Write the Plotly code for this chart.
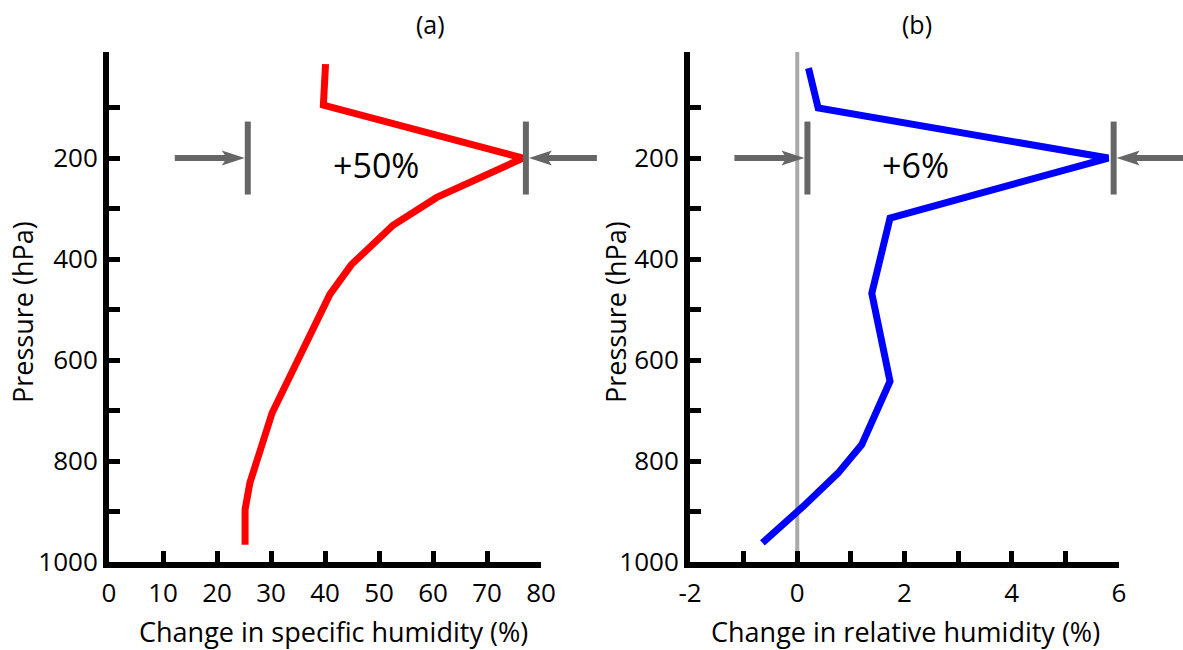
import plotly.graph_objects as go

# ---- data ----
pressure_sh = [14, 95, 200, 278, 333, 411, 470, 705, 843, 896, 966]
sh_change = [40.1, 39.7, 76.7, 60.7, 52.6, 44.9, 40.9, 30.2, 26.1, 25.2, 25.2]

pressure_rh = [22, 101, 200, 319, 468, 642, 768, 824, 890, 962]
rh_change = [0.21, 0.39, 5.80, 1.73, 1.39, 1.73, 1.20, 0.76, 0.11, -0.65]

# bracket markers (x positions of the grey bars) at the 200 hPa level
marker_level = 200
sh_markers = [25.7, 77.2]
rh_markers = [0.19, 5.90]
sh_label = "+50%"
rh_label = "+6%"

y_major = [200, 400, 600, 800, 1000]
y_minor = [100, 300, 500, 700, 900]
x1_ticks = [0, 10, 20, 30, 40, 50, 60, 70, 80]
x2_ticks = [-2, 0, 2, 4, 6]
x2_ticktext = ["-2", "0", "2", "4", "6"]

X1_RANGE = [0, 80]
X2_RANGE = [-2, 6]
Y_RANGE = [1000, -10]

FONT = "Open Sans"
W, H = 1183, 650
GREY = "#666666"

fig = go.Figure()
fig.add_trace(go.Scatter(x=sh_change, y=pressure_sh, mode="lines",
                         line=dict(color="#ff0000", width=7),
                         xaxis="x", yaxis="y", showlegend=False))
fig.add_trace(go.Scatter(x=rh_change, y=pressure_rh, mode="lines",
                         line=dict(color="#0000ff", width=7),
                         xaxis="x2", yaxis="y2", showlegend=False))

axis_common = dict(showgrid=False, zeroline=False, showline=True,
                   linecolor="black", linewidth=6, ticks="inside",
                   ticklen=11, tickwidth=5, tickcolor="black",
                   tickfont=dict(family=FONT, size=26, color="black"))

yaxis_common = dict(axis_common, range=Y_RANGE, tickmode="array",
                    tickvals=y_major,
                    minor=dict(tickmode="array", tickvals=y_minor, ticks="inside",
                               ticklen=11, tickwidth=5, tickcolor="black"))

fig.update_layout(
    width=W, height=H,
    margin=dict(l=0, r=0, t=52, b=88, autoexpand=False),
    paper_bgcolor="white", plot_bgcolor="white",
    xaxis=dict(axis_common, domain=[109 / W, 541 / W], range=X1_RANGE,
               tickmode="array", tickvals=x1_ticks, anchor="y", ticklabelstandoff=3),
    yaxis=dict(yaxis_common, domain=[0, 1], anchor="x"),
    xaxis2=dict(axis_common, domain=[690 / W, 1119 / W], range=X2_RANGE,
                tickmode="array", tickvals=x2_ticks, ticktext=x2_ticktext, anchor="y2",
                ticklabelstandoff=3,
                minor=dict(dtick=1, tick0=-2, ticks="inside", ticklen=11,
                           tickwidth=5, tickcolor="black")),
    yaxis2=dict(yaxis_common, domain=[0, 1], anchor="x2"),
)

# zero line on panel (b)
fig.add_shape(type="line", xref="x2", yref="y2 domain", x0=0, x1=0, y0=0.01, y1=1.0,
              line=dict(color="#aaaaaa", width=4), layer="below")


def frac(v, rng):
    return (v - rng[0]) / (rng[1] - rng[0])


def arrow_path(direction, start, tip):
    # direction +1 -> pointing right, -1 -> pointing left; pixel coords relative to anchor
    d = direction
    head = 23
    notch = 3
    pts = [(start, -3), (tip - d * (head - notch), -3), (tip - d * head, -7.5), (tip, 0),
           (tip - d * head, 7.5), (tip - d * (head - notch), 3), (start, 3)]
    return "M" + " L".join(f"{x:.1f},{y:.1f}" for x, y in pts) + " Z"


def add_bracket(xax, yax, xv, xrng, arrow_dir, arrow_len):
    xa = frac(xv, xrng)
    ya = frac(marker_level, Y_RANGE)
    common = dict(xref=f"{xax} domain", yref=f"{yax} domain", xsizemode="pixel",
                  ysizemode="pixel", xanchor=xa, yanchor=ya)
    fig.add_shape(type="line", x0=0, x1=0, y0=-36.5, y1=36.5,
                  line=dict(color=GREY, width=6), **common)
    if arrow_dir > 0:
        p = arrow_path(1, -3 - arrow_len, -3)
    else:
        p = arrow_path(-1, 3 + arrow_len, 3)
    fig.add_shape(type="path", path=p, fillcolor=GREY, line=dict(width=0), **common)


add_bracket("x", "y", sh_markers[0], X1_RANGE, 1, 70)
add_bracket("x", "y", sh_markers[1], X1_RANGE, -1, 68)
add_bracket("x2", "y2", rh_markers[0], X2_RANGE, 1, 70)
add_bracket("x2", "y2", rh_markers[1], X2_RANGE, -1, 72)


def ppy(py):
    return (562 - py) / 510


ann_font = dict(family=FONT, color="black")
base = dict(showarrow=False, xanchor="center", yanchor="middle")
fig.add_annotation(x=49.4, y=213, xref="x", yref="y", text=sh_label,
                   font=dict(ann_font, size=34), **base)
fig.add_annotation(x=2.21, y=213, xref="x2", yref="y2", text=rh_label,
                   font=dict(ann_font, size=34), **base)
fig.add_annotation(x=430 / W, y=ppy(24), xref="paper", yref="paper", text="(a)",
                   font=dict(ann_font, size=25), **base)
fig.add_annotation(x=917 / W, y=ppy(24), xref="paper", yref="paper", text="(b)",
                   font=dict(ann_font, size=25), **base)
fig.add_annotation(x=334 / W, y=ppy(631), xref="paper", yref="paper",
                   text="Change in specific humidity (%)",
                   font=dict(ann_font, size=27), **base)
fig.add_annotation(x=905 / W, y=ppy(631), xref="paper", yref="paper",
                   text="Change in relative humidity (%)",
                   font=dict(ann_font, size=27), **base)
fig.add_annotation(x=22 / W, y=ppy(312), xref="paper", yref="paper",
                   text="Pressure (hPa)", textangle=-90,
                   font=dict(ann_font, size=27), **base)
fig.add_annotation(x=615 / W, y=ppy(312), xref="paper", yref="paper",
                   text="Pressure (hPa)", textangle=-90,
                   font=dict(ann_font, size=27), **base)

fig.write_html("out.html")
